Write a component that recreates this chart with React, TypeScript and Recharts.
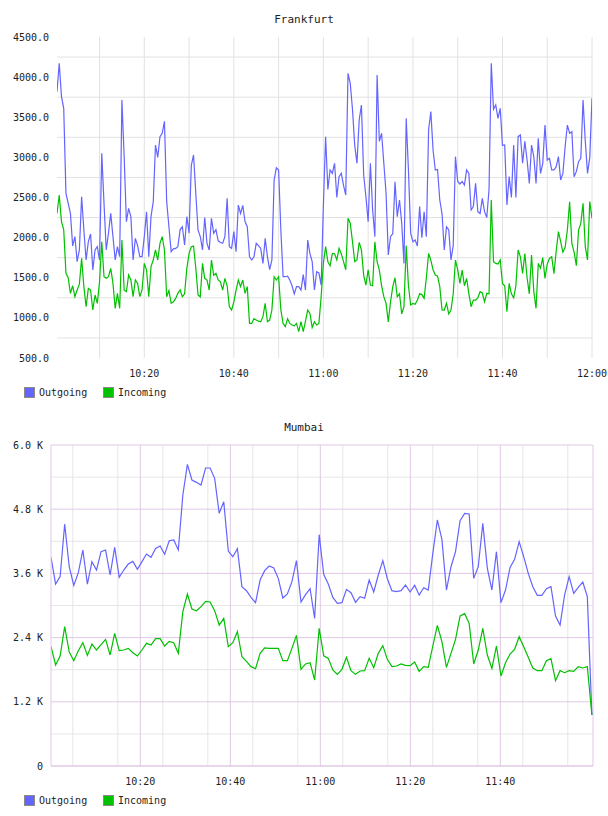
import { LineChart, Line, XAxis, YAxis, CartesianGrid } from 'recharts';

// Frankfurt: one sample every 30 s, first at 10:00:30
const frankfurtOutgoing = [
  3819, 4172, 3756, 3611, 2552, 2427, 2302, 1895, 2012, 1700,
  1846, 2510, 2095, 1721, 1950, 2045, 1596, 1846, 1887, 1721,
  3050, 2427, 1846, 2054, 2302, 2012, 1721, 1887, 1762, 3715,
  3009, 2199, 2365, 2261, 1721, 1991, 1900, 1762, 1762, 2012,
  2323, 1762, 2261, 2448, 3154, 3000, 3258, 3300, 3450, 2448,
  2136, 1825, 1860, 1866, 1887, 2100, 2136, 1908, 2261, 2054,
  2900, 3030, 2552, 2095, 2012, 1846, 2250, 1929, 1846, 2240,
  2054, 2100, 1960, 1940, 1929, 2012, 2490, 1887, 1866, 2074,
  1825, 2406, 2302, 2400, 2200, 2136, 1762, 1721, 1762, 1929,
  1900, 1866, 1679, 1991, 1762, 1600, 1721, 2718, 2870, 2843,
  2095, 1513, 1513, 1520, 1472, 1400, 1300, 1389, 1389, 1347,
  1540, 1347, 1970, 1800, 1700, 1347, 1575, 1560, 1409, 2400,
  3258, 2600, 2843, 2800, 2926, 2500, 2760, 2801, 2650, 2531,
  4047, 3923, 3600, 3150, 2926, 3466, 3653, 2780, 2510, 2199,
  2926, 2344, 2012, 4026, 3200, 3300, 2926, 2552, 1783, 2012,
  2050, 2697, 2261, 2469, 2178, 1679, 3486, 2843, 2054, 1950,
  1970, 1895, 2386, 2000, 2323, 2012, 3341, 3570, 3092, 2843,
  2850, 2469, 2300, 1846, 2136, 2100, 1721, 1900, 3009, 2700,
  2668, 2700, 2656, 2843, 2801, 2344, 2386, 2676, 2323, 2300,
  2490, 2323, 2250, 2600, 4172, 3600, 3653, 3486, 3611, 3150,
  3154, 2406, 2760, 2500, 3154, 2500, 3258, 3279, 2926, 3200,
  2967, 2676, 3154, 3009, 2676, 3237, 2801, 2926, 3403, 2967,
  2988, 2843, 2843, 2884, 3009, 2718, 2801, 3134, 3403, 3300,
  3320, 2760, 2822, 2947, 2988, 3715, 3200, 2801, 3000, 3736,
];

const frankfurtIncoming = [
  2302, 2531, 2199, 2100, 1555, 1500, 1306, 1400, 1264, 1347,
  1420, 1742, 1389, 1139, 1368, 1347, 1098, 1285, 1181, 1450,
  1949, 1513, 1493, 1513, 1617, 1430, 1119, 1306, 1119, 1970,
  1347, 1326, 1534, 1472, 1264, 1472, 1430, 1264, 1350, 1679,
  1596, 1264, 1638, 1721, 1846, 1721, 1929, 2012, 1846, 1264,
  1340, 1181, 1200, 1243, 1306, 1350, 1264, 1300, 1617, 1800,
  1887, 1895, 1620, 1285, 1260, 1679, 1493, 1470, 1347, 1721,
  1530, 1555, 1472, 1450, 1347, 1493, 1400, 1139, 1098, 1200,
  1347, 1472, 1389, 1472, 1306, 1389, 931, 931, 990, 973,
  960, 952, 1015, 1181, 952, 973, 1098, 1513, 1472, 1513,
  1100, 931, 890, 990, 931, 911, 900, 931, 828, 952,
  828, 960, 1098, 1056, 880, 952, 911, 931, 1264, 1679,
  1887, 1700, 1650, 1804, 1800, 1721, 1866, 1800, 1700, 1600,
  2240, 2180, 1950, 1700, 1721, 1940, 1846, 1530, 1409, 1600,
  1409, 1400, 1949, 1700, 1596, 1400, 1264, 1180, 950, 1200,
  1389, 1500, 1264, 1300, 1050, 1139, 1900, 1400, 1160, 1180,
  1170, 1222, 1300, 1290, 1243, 1500, 1804, 1720, 1600, 1534,
  1520, 1389, 1100, 1098, 1181, 1050, 1098, 1300, 1721, 1600,
  1430, 1596, 1400, 1493, 1300, 1139, 1222, 1220, 1250, 1326,
  1310, 1200, 1306, 1300, 2469, 1700, 1679, 1670, 1721, 1430,
  1400, 1077, 1430, 1300, 1250, 1400, 1846, 1760, 1555, 1800,
  1500, 1300, 1783, 1330, 1119, 1679, 1620, 1750, 1493, 1670,
  1740, 1762, 1550, 1830, 2074, 1950, 1820, 1880, 2095, 2448,
  1929, 1820, 1650, 2095, 2178, 2427, 1887, 1721, 2450, 2240,
];

// Mumbai: roughly one sample a minute
const mumbaiOutgoing = [
  3900, 3400, 3540, 4520, 3725, 3376, 3613, 4037, 3400, 3820,
  3663, 4006, 4037, 3570, 4087, 3526, 3663, 3775, 3825, 3676,
  3820, 3962, 3900, 4068, 4112, 3956, 4211, 4224, 4037, 5065,
  5638, 5345, 5302, 5252, 5570, 5570, 5376, 4722, 4940, 4018,
  3912, 4062, 3352, 3277, 3152, 3053, 3476, 3651, 3738, 3700,
  3507, 3140, 3215, 3445, 3838, 3065, 3202, 3314, 2760, 4324,
  3580, 3400, 3152, 3040, 3053, 3302, 3240, 3059, 3165, 3134,
  3476, 3252, 3570, 3838, 3501, 3277, 3258, 3277, 3383, 3252,
  3377, 3196, 3333, 3289, 3975, 4598, 4236, 3289, 3725, 4006,
  4585, 4722, 4710, 3507, 3725, 4535, 3694, 3289, 4006, 3053,
  3289, 3713, 3863, 4193, 3912, 3601, 3352, 3190, 3190, 3314,
  3352, 2804, 2635, 3196, 3539, 3227, 3339, 3439, 3165, 953,
];

const mumbaiIncoming = [
  2230, 1888, 2056, 2604, 2131, 1969, 2156, 2305, 2068, 2280,
  2168, 2268, 2367, 2075, 2480, 2156, 2168, 2199, 2118, 2056,
  2168, 2293, 2262, 2380, 2380, 2243, 2330, 2305, 2106, 2884,
  3215, 2934, 2903, 2978, 3078, 3065, 2903, 2635, 2760, 2230,
  2305, 2511, 2043, 1956, 1857, 1819, 2106, 2206, 2199, 2199,
  2199, 1969, 1969, 2199, 2442, 1807, 1907, 1931, 1607, 2573,
  2060, 2012, 1794, 1713, 1807, 2031, 1782, 1713, 1776, 1782,
  2012, 1838, 2106, 2249, 1994, 1857, 1869, 1907, 1882, 1875,
  1944, 1769, 1857, 1844, 2243, 2629, 2324, 1844, 2106, 2367,
  2804, 2847, 2666, 1907, 2168, 2573, 2075, 1825, 2243, 1682,
  1931, 2093, 2181, 2417, 2230, 2031, 1832, 1782, 1782, 1969,
  2006, 1595, 1782, 1744, 1782, 1769, 1857, 1832, 1857, 953,
];

const frankfurtTimeTicks = [20, 40, 60, 80, 100, 120];
const mumbaiTimeTicks = [20, 40, 60, 80, 100];
const frankfurtValueTicks = [500, 1000, 1500, 2000, 2500, 3000, 3500, 4000, 4500];
const frankfurtGridValues = [750, 1250, 1750, 2250, 2750, 3250, 3750, 4250];
const mumbaiValueTicks = [0, 1200, 2400, 3600, 4800, 6000];
const mumbaiMinorValues = [600, 1800, 3000, 4200, 5400];
const fiveMinuteMarks = [5, 10, 15, 20, 25, 30, 35, 40, 45, 50, 55, 60, 65, 70, 75, 80, 85, 90, 95, 100, 105, 110, 115, 120];

// minutes after 10:00
const FRANKFURT_START = 0.5;
const FRANKFURT_STEP = 0.5;
const MUMBAI_START = 0.16;
const MUMBAI_STEP = 1.01;
const MUMBAI_END = 120.6;

const frankfurtData = frankfurtOutgoing.map((v, i) => ({
  t: FRANKFURT_START + i * FRANKFURT_STEP,
  out: v,
  inc: frankfurtIncoming[i],
}));

const mumbaiData = mumbaiOutgoing.map((v, i) => ({
  t: MUMBAI_START + i * MUMBAI_STEP,
  out: v,
  inc: mumbaiIncoming[i],
}));

const BLUE = '#6464ff';
const GREEN = '#00c000';
const PURPLE = '#e0c8e4';
const MONO = '"DejaVu Sans Mono", monospace';
const tickStyle = { fontFamily: MONO, fontSize: 10, fill: '#222' };

const clock = (m: number) => {
  const h = 10 + Math.floor(m / 60);
  const mm = Math.round(m % 60);
  return `${h}:${mm < 10 ? '0' + mm : mm}`;
};

const kFormat = (v: number) => (v === 0 ? '0' : `${(v / 1000).toFixed(1)} K`);

const Title = ({ text, top }: { text: string; top: number }) => (
  <div
    style={{
      position: 'absolute',
      top,
      left: 0,
      width: 608,
      textAlign: 'center',
      fontFamily: MONO,
      fontSize: 11,
      lineHeight: '14px',
      color: '#222',
    }}
  >
    {text}
  </div>
);

const LegendRow = ({ top }: { top: number }) => {
  const items = [
    { name: 'Outgoing', color: BLUE, left: 24 },
    { name: 'Incoming', color: GREEN, left: 103 },
  ];
  return (
    <>
      {items.map((it) => (
        <div key={it.name} style={{ position: 'absolute', top, left: it.left, height: 12 }}>
          <span
            style={{
              position: 'absolute',
              left: 0,
              top: 0,
              width: 9,
              height: 9,
              background: it.color,
              border: '1px solid #8a8a8a',
            }}
          />
          <span
            style={{
              position: 'absolute',
              left: 15,
              top: -1,
              fontFamily: MONO,
              fontSize: 10,
              lineHeight: '13px',
              color: '#222',
              whiteSpace: 'nowrap',
            }}
          >
            {it.name}
          </span>
        </div>
      ))}
    </>
  );
};

const App = () => {
  return (
    <div style={{ position: 'absolute', left: 0, top: 0, width: 608, height: 816, background: '#fff' }}>
      <Title text="Frankfurt" top={13} />
      <div style={{ position: 'absolute', left: 0, top: 0 }}>
        <LineChart width={608} height={380} data={frankfurtData} margin={{ top: 37, right: 16, left: 0, bottom: 0 }}>
          <CartesianGrid
            stroke="#e2e2e2"
            horizontalValues={frankfurtGridValues}
            verticalValues={fiveMinuteMarks}
          />
          <XAxis
            type="number"
            dataKey="t"
            domain={[0.5, 120]}
            ticks={frankfurtTimeTicks}
            tickFormatter={clock}
            axisLine={false}
            tickLine={false}
            tickMargin={6}
            height={22}
            tick={tickStyle}
            allowDataOverflow
          />
          <YAxis
            domain={[500, 4500]}
            ticks={frankfurtValueTicks}
            tickFormatter={(v: number) => v.toFixed(1)}
            axisLine={false}
            tickLine={false}
            width={57}
            tick={tickStyle}
            allowDataOverflow
          />
          <Line type="linear" dataKey="out" stroke={BLUE} strokeWidth={1.2} dot={false} isAnimationActive={false} />
          <Line type="linear" dataKey="inc" stroke={GREEN} strokeWidth={1.2} dot={false} isAnimationActive={false} />
        </LineChart>
      </div>
      <LegendRow top={387} />

      <Title text="Mumbai" top={421} />
      <div style={{ position: 'absolute', left: 0, top: 410 }}>
        <LineChart width={608} height={378} data={mumbaiData} margin={{ top: 35, right: 15, left: 0, bottom: 0 }}>
          <CartesianGrid
            stroke="#e6e6e6"
            horizontalValues={mumbaiMinorValues}
            verticalValues={fiveMinuteMarks.filter((m) => m % 20 !== 0)}
          />
          <CartesianGrid
            stroke={PURPLE}
            horizontalValues={mumbaiValueTicks}
            verticalValues={[...mumbaiTimeTicks, MUMBAI_END]}
          />
          <XAxis
            type="number"
            dataKey="t"
            domain={[0.15, MUMBAI_END]}
            ticks={mumbaiTimeTicks}
            tickFormatter={clock}
            axisLine={{ stroke: PURPLE }}
            tickLine={false}
            tickMargin={6}
            height={22}
            tick={tickStyle}
            allowDataOverflow
          />
          <YAxis
            domain={[0, 6000]}
            ticks={mumbaiValueTicks}
            tickFormatter={kFormat}
            axisLine={{ stroke: PURPLE }}
            tickLine={false}
            width={51}
            tick={tickStyle}
            allowDataOverflow
          />
          <Line type="linear" dataKey="out" stroke={BLUE} strokeWidth={1.2} dot={false} isAnimationActive={false} />
          <Line type="linear" dataKey="inc" stroke={GREEN} strokeWidth={1.2} dot={false} isAnimationActive={false} />
        </LineChart>
      </div>
      <LegendRow top={795} />
    </div>
  );
};

export default App;
